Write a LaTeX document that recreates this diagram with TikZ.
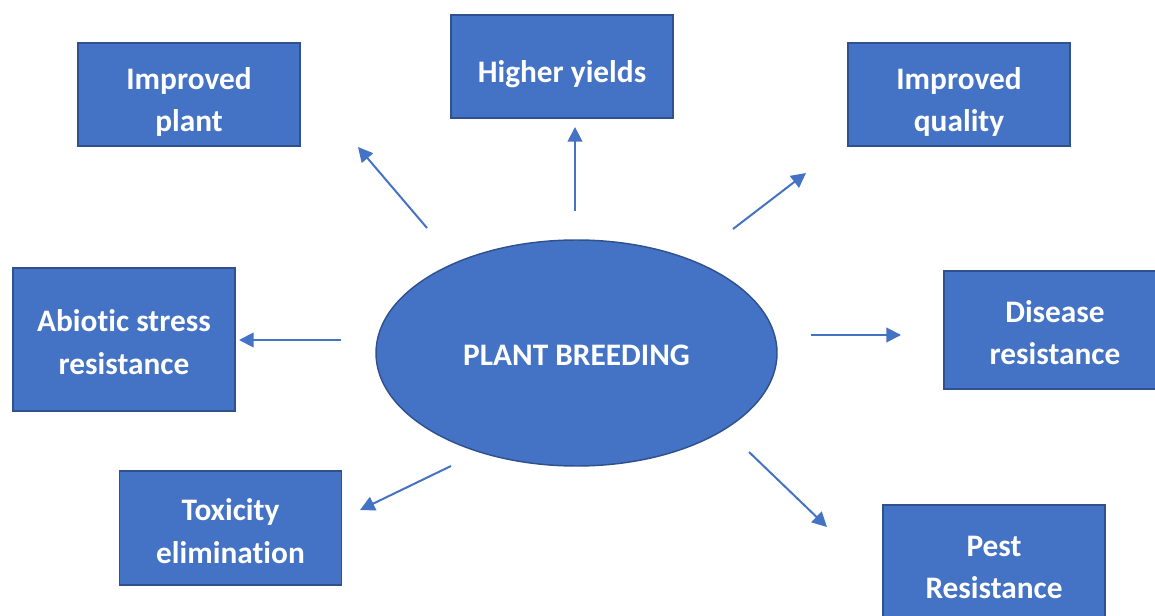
\documentclass[tikz,border=0pt]{standalone}
\usepackage{fontspec}
\setmainfont{Carlito}[Ligatures=NoCommon]
\usetikzlibrary{arrows.meta, shapes.geometric}
\definecolor{boxblue}{HTML}{4472C4}
\definecolor{boxedge}{HTML}{2F528F}
% lower a label inside its box without changing the box
\newcommand{\droptext}[2]{\raisebox{-#1}[\height][\depth]{\begin{tabular}{@{}c@{}}#2\end{tabular}}}

\begin{document}
\begin{tikzpicture}[x=0.75pt, y=-0.75pt,
        block/.style={rectangle, draw=boxedge, fill=boxblue, line width=1.3pt,
                      minimum width=166.5pt, inner sep=0pt, align=center,
                      text=white, font=\fontsize{23.5}{32}\selectfont\bfseries},
        hub/.style={ellipse, draw=boxedge, fill=boxblue, line width=1.1pt,
                    minimum width=300.75pt, minimum height=169.5pt, inner sep=0pt,
                    text=white, font=\fontsize{23.5}{32}\selectfont\bfseries},
        arrow/.style={-{Triangle[length=11pt, width=11pt]}, draw=boxblue, line width=1.5pt},
    ]
        \useasboundingbox (0,0) rectangle (1155,616);
        \clip (0,0) rectangle (1155,616);

        % Centre
        \node[hub] (breed) at (576.5,353) {\droptext{3pt}{PLANT BREEDING}};

        % Outcomes
        \node[block, minimum height=77.25pt] (plant) at (189,94.5) {\droptext{5.5pt}{Improved\\plant}};
        \node[block, minimum height=77.25pt] (yield) at (562,66.5) {\droptext{5.25pt}{Higher yields}};
        \node[block, minimum height=77.25pt] (quality) at (959,94.5) {\droptext{5.5pt}{Improved\\quality}};
        \node[block, minimum height=107.25pt] (abiotic) at (124,339.5) {\droptext{3.5pt}{Abiotic stress\\resistance}};
        \node[block, minimum height=88.5pt] (disease) at (1055,330) {\droptext{3.75pt}{Disease\\resistance}};
        \node[block, minimum height=85.5pt] (toxic) at (230.5,528) {\droptext{4pt}{Toxicity\\elimination}};
        \node[block, minimum height=93pt] (pest) at (994,567) {\droptext{1.5pt}{Pest\\Resistance}};

        % Arrow ends
        \coordinate (plantA) at (427,228);   \coordinate (plantB) at (358,147);
        \coordinate (yieldA) at (575,211);   \coordinate (yieldB) at (575,127);
        \coordinate (qualityA) at (733,229); \coordinate (qualityB) at (806,173);
        \coordinate (abioticA) at (341,340); \coordinate (abioticB) at (239,340);
        \coordinate (diseaseA) at (811,335); \coordinate (diseaseB) at (901,335);
        \coordinate (toxicA) at (451,466);   \coordinate (toxicB) at (360,510);
        \coordinate (pestA) at (749,452);    \coordinate (pestB) at (827,527);

        \draw[arrow] (plantA) -- (plantB);
        \draw[arrow] (yieldA) -- (yieldB);
        \draw[arrow] (qualityA) -- (qualityB);
        \draw[arrow] (abioticA) -- (abioticB);
        \draw[arrow] (diseaseA) -- (diseaseB);
        \draw[arrow] (toxicA) -- (toxicB);
        \draw[arrow] (pestA) -- (pestB);

    \end{tikzpicture}
\end{document}
